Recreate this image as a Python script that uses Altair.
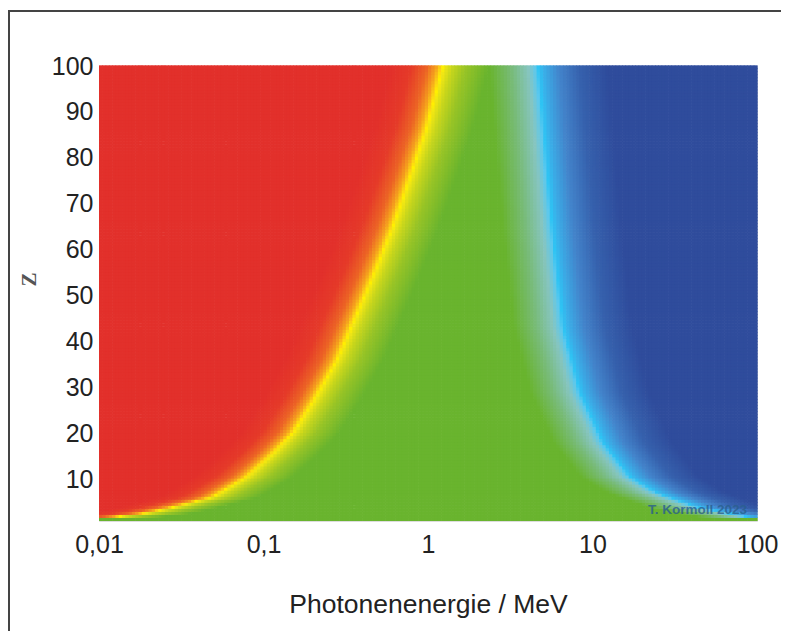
import numpy as np
import pandas as pd
import altair as alt

# ---- data ----
# photo effect / Compton boundary (yellow line): Z and photon energy in MeV
pc_Z = [1.6, 2.3, 3.8, 6.2, 10.6, 15.8, 20.1, 27.3, 36.0, 41.0, 49.1, 56.3, 65.0, 75.8, 86.7, 100]
pc_E = [0.010, 0.017, 0.027, 0.049, 0.079, 0.115, 0.151, 0.203, 0.280, 0.322, 0.403, 0.490,
        0.612, 0.778, 0.986, 1.233]
# Compton / pair production boundary (cyan line)
cp_Z = [1.9, 4.0, 7.1, 10.6, 18.0, 28.9, 43.3, 65.0, 100]
cp_E = [86.9, 43.2, 24.7, 16.9, 11.6, 8.39, 6.62, 5.68, 4.67]

x_ticks = [0.01, 0.1, 1, 10, 100]
y_ticks = [10, 20, 30, 40, 50, 60, 70, 80, 90, 100]

# ---- grid of cells (log energy x Z) ----
W, H = 658, 455
NX, NZ = 200, 150
le_edges = np.linspace(-2, 2, NX + 1)
z_edges = np.linspace(1, 100, NZ + 1)
le_c = (le_edges[:-1] + le_edges[1:]) / 2
z_c = (z_edges[:-1] + z_edges[1:]) / 2
LE, ZZ = np.meshgrid(le_c, z_c)
Zf, LEf = ZZ.ravel(), LE.ravel()

le1 = np.log10(pc_E)
le2 = np.log10(cp_E)
# boundary energies at each Z (horizontal distance in decades)
b1 = np.where(Zf >= pc_Z[0], np.interp(Zf, pc_Z, le1), -9.0)
b2 = np.where(Zf >= cp_Z[0], np.interp(Zf, cp_Z, le2), 9.0)
d1 = LEf - b1          # <0 : photo effect side
d2 = LEf - b2          # >0 : pair production side

WR, WG1, WG2, WB = 0.32, 0.28, 0.30, 0.42
v = np.where(np.abs(d1) < np.abs(d2),
             1 + np.minimum(np.abs(d1) / WG1, 1),
             3 - np.minimum(np.abs(d2) / WG2, 1))
v = np.where(d1 < 0, 1 - np.minimum(-d1 / WR, 1), v)
v = np.where(d2 > 0, 3 + np.minimum(d2 / WB, 1), v)

ix, iz = np.meshgrid(np.arange(NX), np.arange(NZ))
df = pd.DataFrame({
    "e0": 10 ** le_edges[ix.ravel()],
    "e1": 10 ** (le_edges[ix.ravel() + 1] + 0.004),
    "z0": z_edges[iz.ravel()],
    "z1": z_edges[iz.ravel() + 1] + 0.15,
    "v": np.round(v, 3),
})

dom = [0, 0.4, 0.7, 0.88, 0.96, 1.0, 1.04, 1.2, 1.5, 2.0,
       2.45, 2.8, 2.95, 3.0, 3.08, 3.3, 3.6, 4.0]
rng = ["#e2302b", "#e53a29", "#ec6425", "#f5a31d", "#fcd514", "#fff000", "#f0e614",
       "#c8d61c", "#98c426", "#69b42e",
       "#78bb78", "#86c5c0", "#5cc8ee", "#2ec4f4", "#3aaee8", "#4384cb", "#3661ad", "#2f4c9c"]

heat = alt.Chart(df).mark_rect(strokeWidth=0).encode(
    x=alt.X("e0:Q", scale=alt.Scale(type="log", domain=[0.01, 100], nice=False),
            axis=alt.Axis(values=x_ticks, title="Photonenenergie / MeV",
                          labelExpr="datum.value >= 1 ? format(datum.value, 'd') : replace(format(datum.value, ''), '.', ',')",
                          grid=False, domain=False, ticks=False, labelFontSize=25,
                          labelPadding=11, titleFontSize=26.5, titlePadding=34,
                          titleFontWeight="normal", labelColor="#222", titleColor="#222",
                          labelFont="Liberation Sans", titleFont="Liberation Sans", labelFlush=False)),
    x2="e1:Q",
    y=alt.Y("z0:Q", scale=alt.Scale(domain=[1, 100], nice=False, zero=False),
            axis=alt.Axis(values=y_ticks, title="Z", grid=False, domain=False, ticks=False,
                          labelFontSize=25, labelPadding=6, labelColor="#222",
                          labelFont="Liberation Sans", titleFont="Liberation Serif",
                          titleFontSize=21, titleFontWeight="bold", titleColor="#555",
                          titleX=-60, titleY=213, labelFlush=False)),
    y2="z1:Q",
    color=alt.Color("v:Q", scale=alt.Scale(domain=dom, range=rng, interpolate="rgb", clamp=True),
                    legend=None),
)

wm = alt.Chart(pd.DataFrame({"t": ["T. Kormoll 2023"]})).mark_text(
    align="right", baseline="middle", fontSize=13.5, fontWeight="bold",
    font="Liberation Sans", color="#2a5f8f", opacity=0.8
).encode(text="t:N", x=alt.value(648), y=alt.value(444))

frame_df = pd.DataFrame({"a": [0]})
frame_left = alt.Chart(frame_df).mark_rule(color="#444", strokeWidth=2).encode(
    x=alt.value(-90), y=alt.value(-55), y2=alt.value(600))
frame_top = alt.Chart(frame_df).mark_rule(color="#444", strokeWidth=2).encode(
    x=alt.value(-91), x2=alt.value(720), y=alt.value(-55))

chart = alt.layer(heat, wm, frame_left, frame_top).properties(
    width=W, height=H,
    autosize=alt.AutoSizeParams(type="none"),
    padding={"left": 91, "top": 58, "right": 24, "bottom": 110},
).configure_view(stroke=None).configure(background="white")

chart.save("out.html", embed_options={"renderer": "svg", "actions": False})
